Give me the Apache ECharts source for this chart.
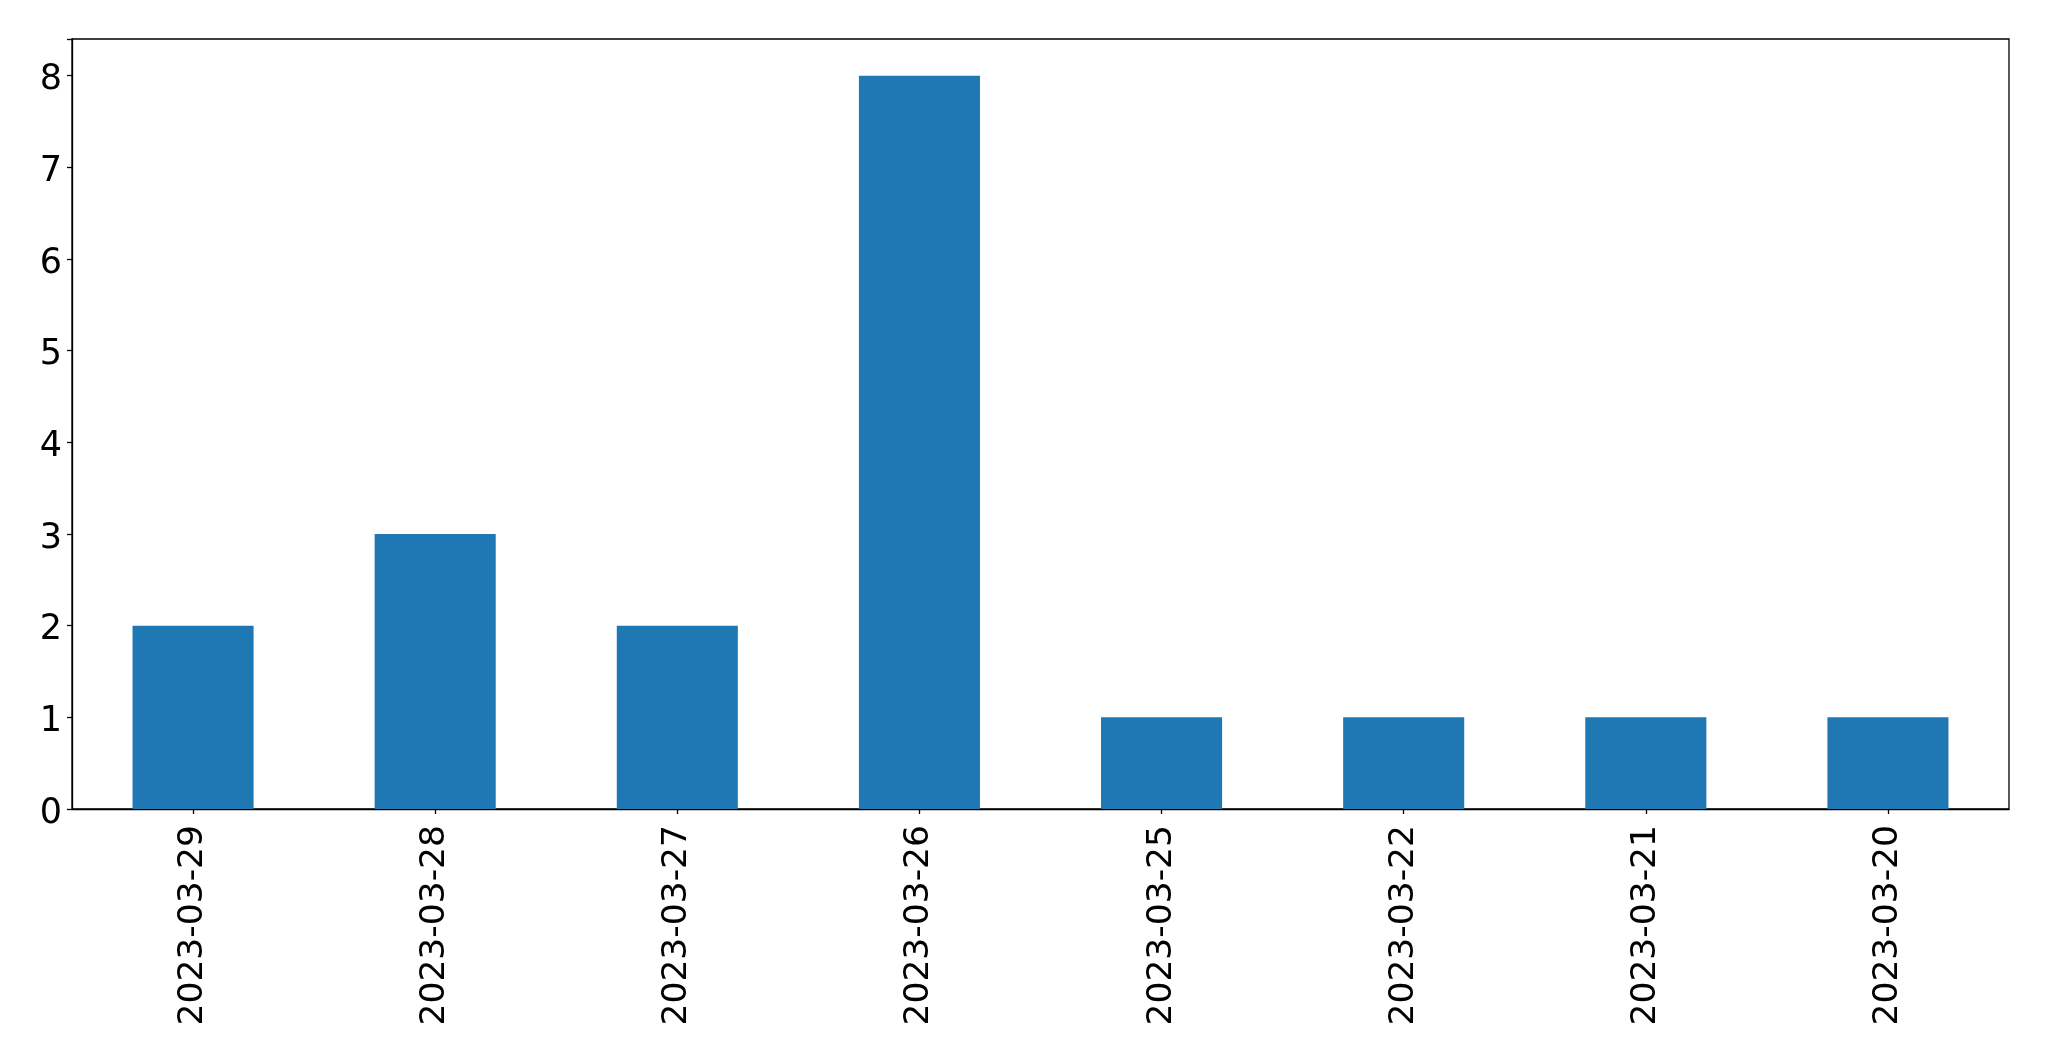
<!DOCTYPE html>
<html>
<head>
<meta charset="utf-8">
<script src="https://cdn.jsdelivr.net/npm/echarts@6/dist/echarts.min.js"></script>
<style>html,body{margin:0;padding:0;background:#fff}#c{width:2049px;height:1061px}</style>
</head>
<body>
<div id="c"></div>
<script>
const categories = ["2023-03-29","2023-03-28","2023-03-27","2023-03-26","2023-03-25","2023-03-22","2023-03-21","2023-03-20"];
const counts = [2, 3, 2, 8, 1, 1, 1, 1];
const yTicks = [0, 1, 2, 3, 4, 5, 6, 7, 8];

const chart = echarts.init(document.getElementById('c'), null, {renderer: 'canvas'});
const font = 'DejaVu Sans';
chart.setOption({
  animation: false,
  backgroundColor: '#ffffff',
  grid: {left: 72, right: 40, top: 39, bottom: 252, show: true, borderColor: '#000', borderWidth: 1.3, containLabel: false},
  xAxis: {
    type: 'category',
    data: categories,
    boundaryGap: true,
    axisLine: {show: true, lineStyle: {color: '#000', width: 1.3}},
    axisTick: {show: true, alignWithLabel: true, length: 5, lineStyle: {color: '#000', width: 1.3}},
    axisLabel: {rotate: 90, color: '#000', fontFamily: font, fontSize: 34.5, margin: 16, interval: 0},
    splitLine: {show: false}
  },
  yAxis: {
    type: 'value',
    min: 0,
    max: 8.4,
    interval: 1,
    axisLine: {show: true, lineStyle: {color: '#000', width: 1.3}},
    axisTick: {show: true, length: 5, lineStyle: {color: '#000', width: 1.3}},
    axisLabel: {color: '#000', fontFamily: font, fontSize: 35, margin: 10,
      formatter: v => yTicks.includes(v) ? '{a|' + v + '}' : '',
      rich: {a: {color: '#000', fontFamily: font, fontSize: 35, padding: [9, 0, 0, 0]}}},
    splitLine: {show: false}
  },
  series: [{
    type: 'bar',
    data: counts,
    barWidth: '50%',
    itemStyle: {color: '#1f77b4'}
  }]
});
</script>
</body>
</html>
